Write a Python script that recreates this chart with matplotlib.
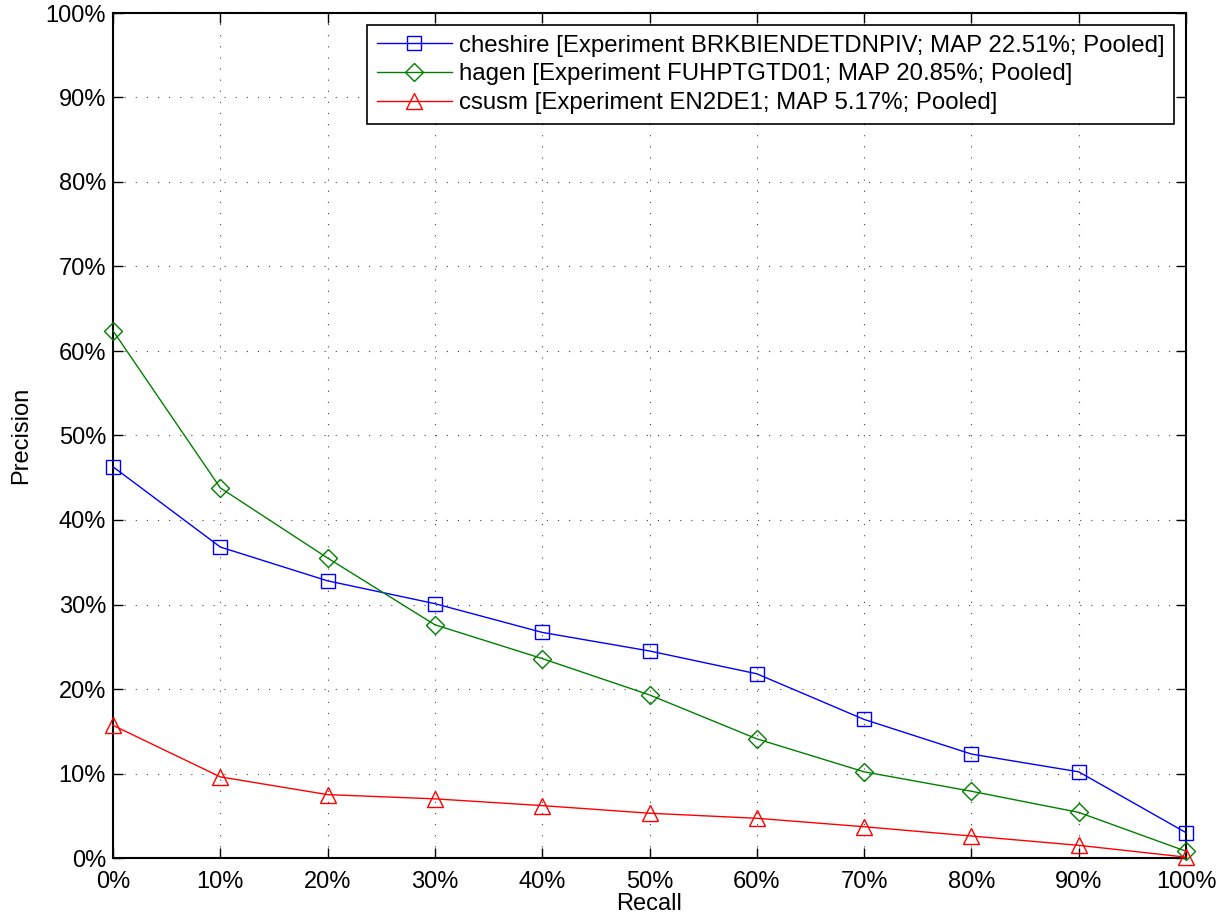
import matplotlib
matplotlib.use("Agg")
import matplotlib.pyplot as plt
from matplotlib.ticker import FuncFormatter, MultipleLocator

recall = [0, 10, 20, 30, 40, 50, 60, 70, 80, 90, 100]
cheshire = [46.3, 36.8, 32.8, 30.1, 26.7, 24.5, 21.8, 16.4, 12.3, 10.2, 3.0]
hagen = [62.4, 43.8, 35.5, 27.6, 23.6, 19.3, 14.1, 10.2, 7.9, 5.4, 0.8]
csusm = [15.7, 9.6, 7.5, 7.0, 6.2, 5.3, 4.7, 3.7, 2.6, 1.5, 0.1]
labels = [
    "cheshire [Experiment BRKBIENDETDNPIV; MAP 22.51%; Pooled]",
    "hagen [Experiment FUHPTGTD01; MAP 20.85%; Pooled]",
    "csusm [Experiment EN2DE1; MAP 5.17%; Pooled]",
]

plt.rcParams['font.family'] = ['Liberation Sans', 'DejaVu Sans']
fig = plt.figure(figsize=(12.26, 9.21), dpi=100)
ax = fig.add_axes([113/1226, 1 - 858/921, (1186-113)/1226, (858-13)/921])

ax.plot(recall, cheshire, color='#0000ff', marker='s', mfc='none', ms=9.5, mew=1, lw=1, label=labels[0], clip_on=False, zorder=3)
ax.plot(recall, hagen, color='#008000', marker='D', mfc='none', ms=9, mew=1, lw=1, label=labels[1], clip_on=False, zorder=3)
ax.plot(recall, csusm, color='#ff0000', marker='^', mfc='none', ms=11, mew=1, lw=1, label=labels[2], clip_on=False, zorder=3)

ax.set_xlim(0, 100)
ax.set_ylim(0, 100)
ax.xaxis.set_major_locator(MultipleLocator(10))
ax.yaxis.set_major_locator(MultipleLocator(10))
fmt = FuncFormatter(lambda v, p: f"{int(round(v))}%")
ax.xaxis.set_major_formatter(fmt)
ax.yaxis.set_major_formatter(fmt)
ax.tick_params(direction='in', length=7, width=1, top=True, right=True, labelsize=17, colors='black')
ax.tick_params(axis='x', pad=9)
ax.tick_params(axis='y', pad=5)
ax.grid(True, linestyle=(0, (1, 9)), color='#444444', linewidth=0.8)
for s in ax.spines.values():
    s.set_linewidth(1.5)
ax.set_xlabel("Recall", fontsize=17, labelpad=0)
ax.set_ylabel("Precision", fontsize=17, labelpad=10)

leg = ax.legend(loc='upper right', bbox_to_anchor=(1 - 12/1073, 1 - 12/845), fontsize=17.3,
                frameon=True, fancybox=False, edgecolor='black', framealpha=1,
                handlelength=3.1, borderpad=0.4, labelspacing=0.28, handletextpad=0.3,
                borderaxespad=0)
leg.get_frame().set_linewidth(1.2)

fig.savefig("out.png", dpi=100)
